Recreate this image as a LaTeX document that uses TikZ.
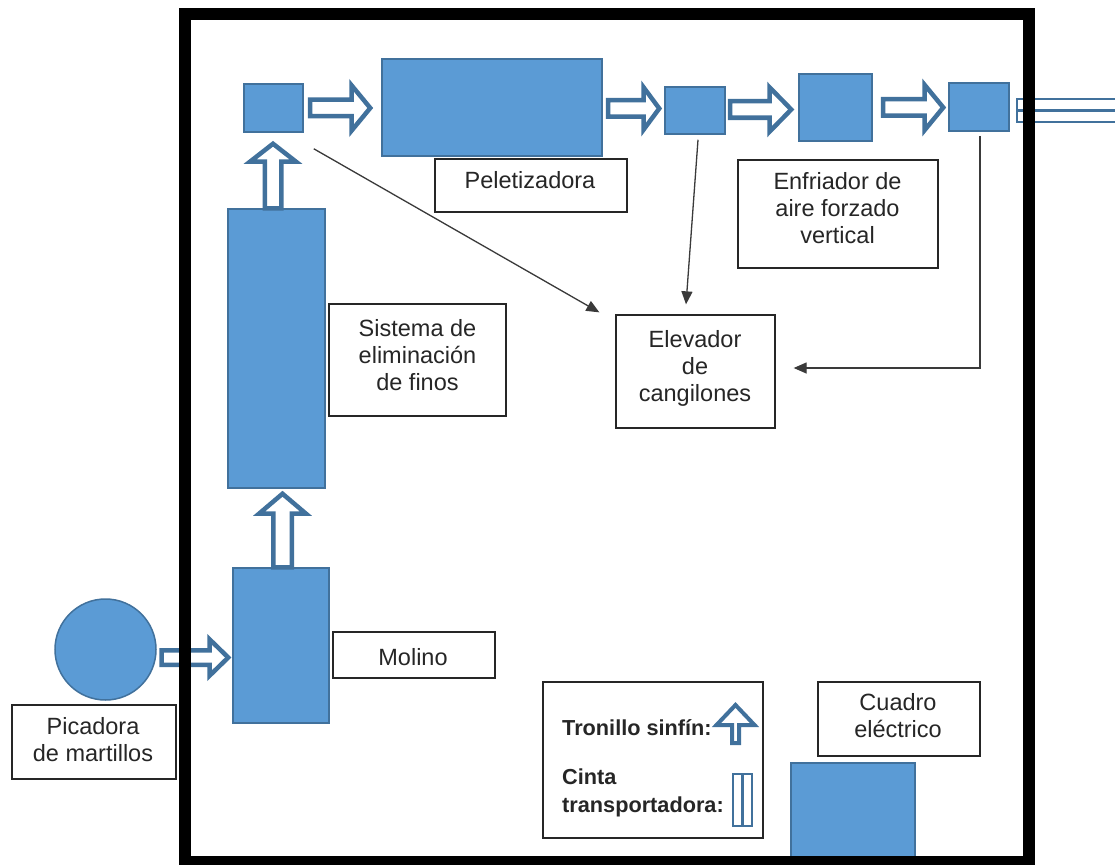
\documentclass[tikz,border=0pt]{standalone}
\usepackage{fontspec}
\setmainfont{Liberation Sans}
\usetikzlibrary{calc,arrows.meta}
\definecolor{bfill}{HTML}{5B9BD5}
\definecolor{bline}{HTML}{41719C}
\definecolor{txt}{HTML}{262626}
\definecolor{conn}{HTML}{3A3A3A}
% right block arrow: start, tip, head length, head half width, shaft half width
\newcommand\rarr[5]{%
 \draw[barrow] let \p1=#1, \p2=#2 in (\x1,\y1+#5pt) -- (\x2-#3pt,\y1+#5pt) -- (\x2-#3pt,\y1+#4pt) -- (\x2,\y1) -- (\x2-#3pt,\y1-#4pt) -- (\x2-#3pt,\y1-#5pt) -- (\x1,\y1-#5pt) -- cycle;}
% up block arrow: bottom, tip, head length, head half width, shaft half width
\newcommand\uarr[5]{%
 \draw[barrow] let \p1=#1, \p2=#2 in (\x1-#5pt,\y1) -- (\x1-#5pt,\y2-#3pt) -- (\x1-#4pt,\y2-#3pt) -- (\x1,\y2) -- (\x1+#4pt,\y2-#3pt) -- (\x1+#5pt,\y2-#3pt) -- (\x1+#5pt,\y1) -- cycle;}
\tikzset{
 bluebox/.style={draw=bline, line width=1.5pt, fill=bfill, inner sep=0pt},
 lblbox/.style={draw=black!85, line width=1.3pt, fill=white, inner sep=0pt},
 lbl/.style={font=\fontsize{23.5}{27}\selectfont, text=txt, align=center, inner sep=0pt},
 leg/.style={font=\fontsize{21.7}{28}\selectfont\bfseries, text=txt, align=left, inner sep=0pt, anchor=west},
 barrow/.style={draw=bline, line width=4.5pt, fill=white, line join=miter},
 belt/.style={draw=bline, line width=2.5pt, fill=white},
 conn/.style={draw=conn, line width=1.3pt, -{Triangle[length=13pt,width=11pt]}},
}
\begin{document}
\begin{tikzpicture}[x=1pt,y=-1pt]
\useasboundingbox (0,0) rectangle (1115,864);
\fill[white] (0,0) rectangle (1115,864);

% equipment
\node[bluebox, minimum width=59pt, minimum height=48pt] (b1) at (273.5,108) {};
\node[bluebox, minimum width=220pt, minimum height=97pt] (pel) at (492,107.5) {};
\node[bluebox, minimum width=60pt, minimum height=47pt] (b2) at (695,110.5) {};
\node[bluebox, minimum width=73pt, minimum height=67pt] (b3) at (835.5,107.5) {};
\node[bluebox, minimum width=60pt, minimum height=48pt] (b4) at (979,107) {};
\node[bluebox, minimum width=97pt, minimum height=279pt] (fin) at (276.5,348.5) {};
\node[bluebox, minimum width=96pt, minimum height=155pt] (mol) at (281,645.5) {};
\node[bluebox, circle, minimum size=101pt] (circ) at (105.5,649.5) {};
\node[bluebox, minimum width=124pt, minimum height=107pt] (cua) at (853,816.5) {};

% exit conveyor
\draw[belt] ($(b4.east)+(7,-8)$) rectangle (1125,110.5);
\draw[belt] ($(b4.east)+(7,3.5)$) rectangle (1125,122);

% block arrows (screw conveyors)
\rarr{($(b1.east)+(6.25,0)$)}{($(pel.west)+(-11,0)$)}{18.75}{22.75}{8.25}
\rarr{($(pel.east)+(5.25,1)$)}{($(b2.west)+(-5,0)$)}{15.75}{21.25}{8.25}
\rarr{($(b2.east)+(4.25,-1)$)}{($(b3.west)+(-7,0)$)}{21.75}{22.25}{8.25}
\rarr{($(b3.east)+(10.25,0)$)}{($(b4.west)+(-5,0)$)}{18.75}{22.75}{8.25}
\rarr{($(circ.east)+(4.75,8)$)}{($(mol.west)+(-4,0)$)}{18.75}{18.25}{7.25}
\uarr{($(fin.north)+(-3.5,0)$)}{($(b1.south)+(0,11)$)}{17.75}{22.75}{8.25}
\uarr{($(mol.north)+(1.5,0)$)}{($(fin.south)+(0,5)$)}{19.75}{23.25}{9.25}

% label boxes
\node[lblbox, minimum width=192pt, minimum height=53pt] (lpel) at (531,185.5) {};
\node[lbl] (tpel) at (530,180.5) {Peletizadora};
\node[lblbox, minimum width=200pt, minimum height=108pt] (lenf) at (838,214) {};
\node[lbl] (tenf) at (837.5,208.5) {Enfriador de\\aire forzado\\vertical};
\node[lblbox, minimum width=177pt, minimum height=112pt] (lsis) at (417.5,360) {};
\node[lbl] (tsis) at (417.5,355.5) {Sistema de\\eliminación\\de finos};
\node[lblbox, minimum width=159pt, minimum height=113pt] (lele) at (695.5,371.5) {};
\node[lbl] (tele) at (695,368) {Elevador\\de\\cangilones};
\node[lblbox, minimum width=162pt, minimum height=46pt] (lmol) at (414,655) {};
\node[lbl] (tmol) at (413,657) {Molino};
\node[lblbox, minimum width=164pt, minimum height=74pt] (lpic) at (94,742) {};
\node[lbl] (tpic) at (93,740) {Picadora\\de martillos};
\node[lblbox, minimum width=162pt, minimum height=74pt] (lcua) at (899,719) {};
\node[lbl] (tcua) at (898,716) {Cuadro\\eléctrico};

% legend
\node[lblbox, minimum width=220pt, minimum height=156pt] (legbox) at (653,760) {};
\node[leg] (leg1) at (562,727.5) {Tronillo sinfín:};
\node[leg] (leg2) at (562,793) {Cinta\\transportadora:};
\draw[barrow, line width=4pt] (732,743) -- (732,725) -- (716.5,725) -- (735.5,705) -- (754.5,725) -- (739,725) -- (739,743) -- cycle;
\draw[belt] (733,774) rectangle (742.5,826);
\draw[belt] (742.5,774) rectangle (752,826);

% thin connectors to the bucket elevator
\draw[conn] ($(b1.south east)+(10,16)$) -- ($(lele.north west)+(-16,-2)$);
\draw[conn] ($(b2.south)+(3,5)$) -- ($(lele.north)+(-9.5,-10)$);
\draw[conn] ($(b4.south)+(1,4)$) |- ($(lele.east)+(18,-3.5)$);

% building walls
\draw[line width=12pt] (184.5,14) rectangle (1029,862);
\end{tikzpicture}
\end{document}
